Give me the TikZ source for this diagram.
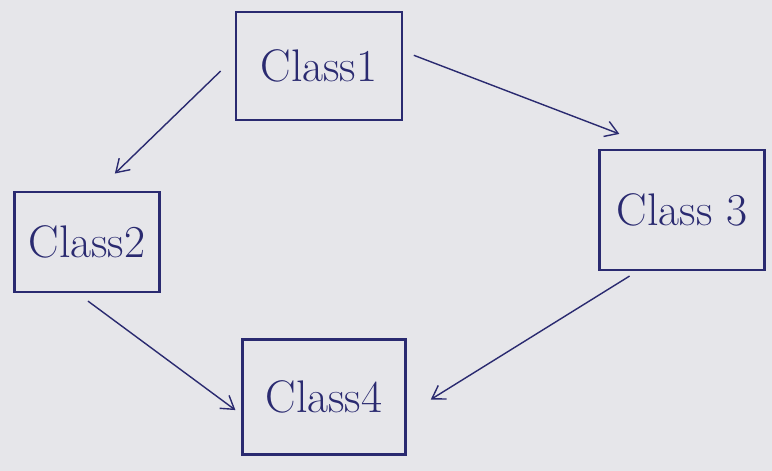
\documentclass[tikz,border=0pt]{standalone}
\usetikzlibrary{arrows.meta}
\definecolor{ink}{RGB}{42,42,112}
\definecolor{paper}{RGB}{230,230,234}
\begin{document}
\begin{tikzpicture}[>={Straight Barb[length=2.5mm,width=3.2mm]},
    box/.style={draw=ink, line width=1.2pt, text=ink, font=\fontsize{26}{30}\selectfont}]
    \fill[paper] (0,0) rectangle (15.44,9.42);
    \node[box, minimum width=3.32cm, minimum height=2.16cm] (c1) at (6.38,8.10) {Class1};
    \node[box, minimum width=2.9cm, minimum height=2.0cm] (c2) at (1.74,4.58) {Class2};
    \node[box, minimum width=3.3cm, minimum height=2.4cm] (c3) at (13.64,5.22) {Class 3};
    \node[box, minimum width=3.26cm, minimum height=2.3cm] (c4) at (6.48,1.48) {Class4};

    \path[->, ink, line width=0.8pt]
    (c1.174) edge [shorten <=0.4cm, shorten >=0.5cm] (c2.79)
    (c1.10) edge [shorten <=0.23cm, shorten >=0.84cm] (c3.111)
    (c2.259) edge [shorten <=0.27cm, shorten >=0.15cm] (c4.192)
    (c3.234) edge [shorten <=0.19cm, shorten >=0.57cm] (c4.348);
\end{tikzpicture}
\end{document}
